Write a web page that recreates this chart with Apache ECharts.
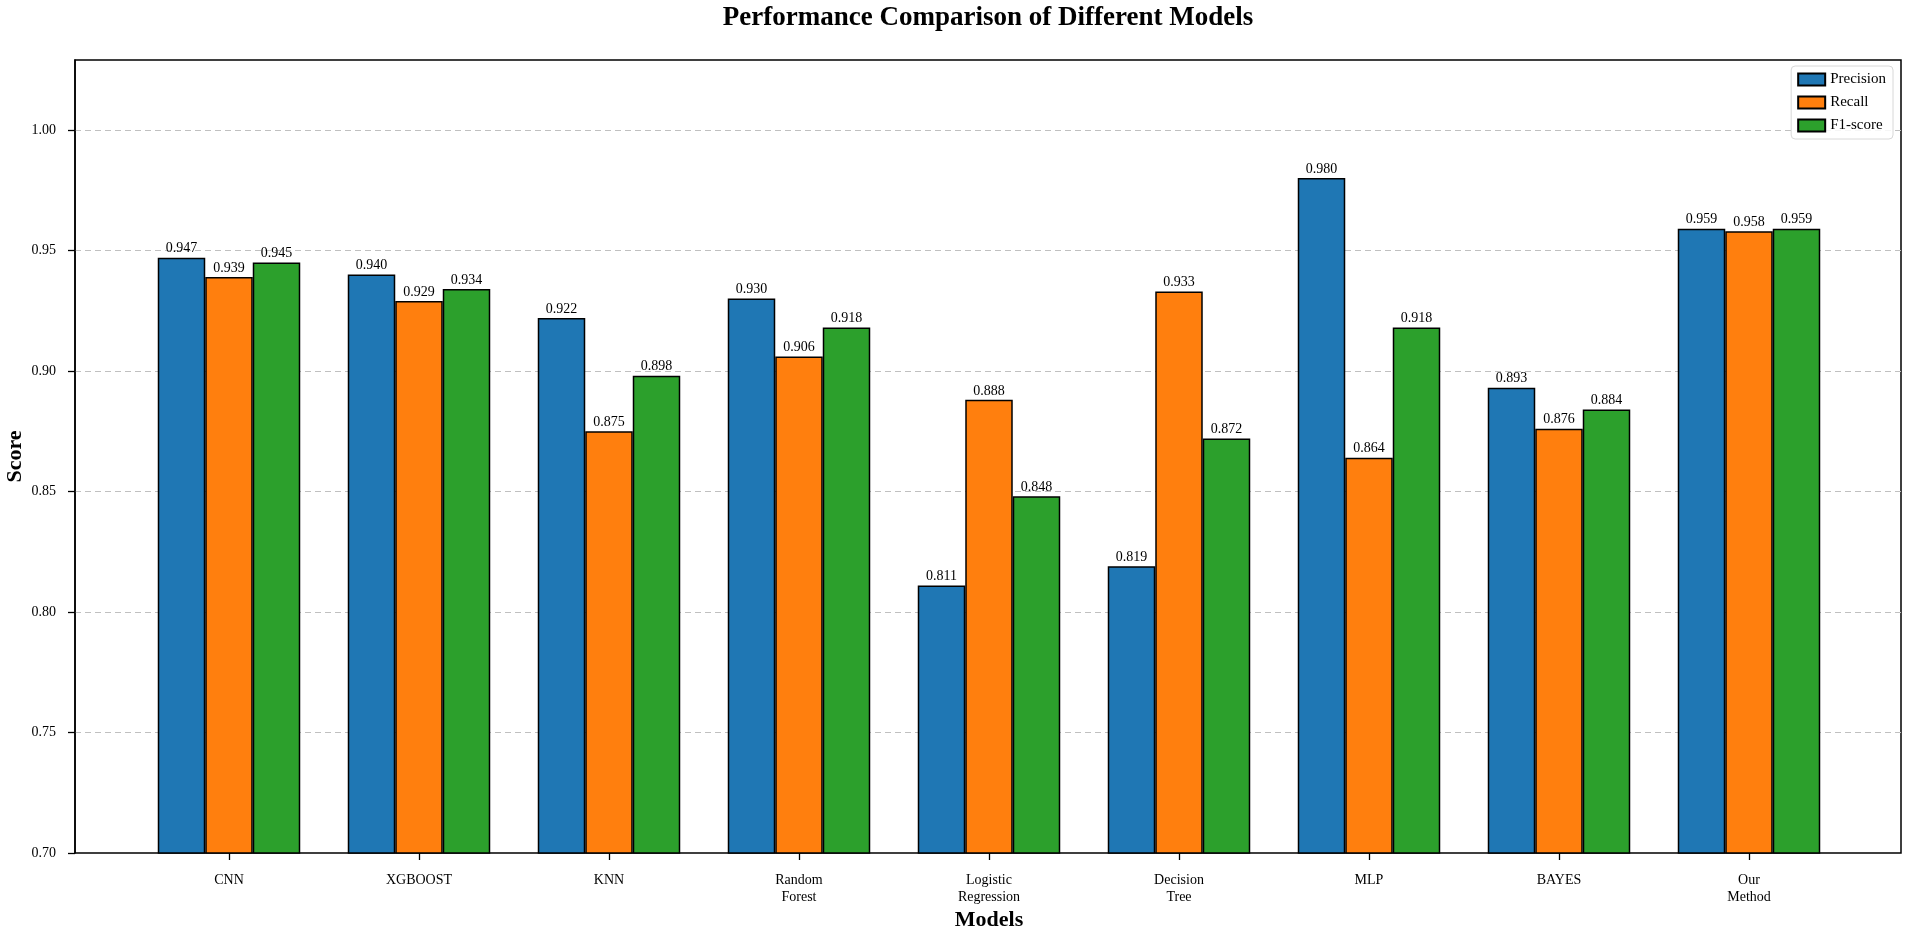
<!DOCTYPE html>
<html>
<head>
<meta charset="utf-8">
<script src="https://cdn.jsdelivr.net/npm/echarts@6/dist/echarts.min.js"></script>
<style>
html,body{margin:0;padding:0;background:#fff;}
#main{width:1905px;height:928px;}
</style>
</head>
<body>
<div id="main"></div>
<script>
const categories = ['CNN', 'XGBOOST', 'KNN', 'Random Forest', 'Logistic Regression', 'Decision Tree', 'MLP', 'BAYES', 'Our Method'];
const seriesNames = ['Precision', 'Recall', 'F1-score'];
const precision = [0.947, 0.940, 0.922, 0.930, 0.811, 0.819, 0.980, 0.893, 0.959];
const recall = [0.939, 0.929, 0.875, 0.906, 0.888, 0.933, 0.864, 0.876, 0.958];
const f1score = [0.945, 0.934, 0.898, 0.918, 0.848, 0.872, 0.918, 0.884, 0.959];
const yTickMin = 0.70, yTickMax = 1.00, yTickStep = 0.05;
const colors = ['#1f77b4', '#ff7f0e', '#2ca02c'];

const FONT = "'Liberation Serif', 'Times New Roman', serif";
const Y_MIN = 0.7, Y_MAX = 1.029;

// layout (pixels)
const W = 1905, H = 928;
const PLOT_LEFT = 75, PLOT_RIGHT = 4, PLOT_TOP = 60, PLOT_BOTTOM = 75;
const PLOT_H = H - PLOT_TOP - PLOT_BOTTOM;
// tick grid top: where the last tick value sits inside the frame
const TICK_TOP = PLOT_TOP + (Y_MAX - yTickMax) / (Y_MAX - Y_MIN) * PLOT_H;

const chart = echarts.init(document.getElementById('main'), null, {renderer: 'canvas'});

function makeSeries(name, data, color) {
  return {
    name: name,
    type: 'bar',
    xAxisIndex: 1,
    yAxisIndex: 1,
    data: data,
    barWidth: '25%',
    barGap: '0%',
    z: 3,
    itemStyle: {color: color, borderColor: '#000', borderWidth: 1.5},
    label: {
      show: true,
      position: 'top',
      distance: 2,
      formatter: p => p.value.toFixed(3),
      fontFamily: FONT,
      fontSize: 14,
      color: '#000'
    },
    emphasis: {disabled: true}
  };
}

const option = {
  animation: false,
  backgroundColor: '#fff',
  graphic: [{
    type: 'text',
    x: 988,
    y: 18,
    style: {
      text: 'Performance Comparison of Different Models',
      fontFamily: FONT,
      fontWeight: 'bold',
      fontSize: 27,
      fill: '#000',
      align: 'center',
      verticalAlign: 'middle'
    }
  }],
  legend: {
    data: seriesNames,
    orient: 'vertical',
    right: 12,
    top: 66,
    itemWidth: 27,
    itemHeight: 12,
    itemGap: 8,
    icon: 'rect',
    padding: [6, 7, 6, 6],
    borderColor: '#d8d8d8',
    borderWidth: 1,
    borderRadius: 4,
    backgroundColor: 'rgba(255,255,255,0.85)',
    textStyle: {fontFamily: FONT, fontSize: 15, color: '#000'},
    z: 10
  },
  grid: [
    {left: PLOT_LEFT, right: PLOT_RIGHT, top: PLOT_TOP, bottom: PLOT_BOTTOM, show: true, borderColor: '#000', borderWidth: 1.5, backgroundColor: 'transparent', outerBoundsMode: 'none', containLabel: false},
    {left: 134, right: 61, top: PLOT_TOP, bottom: PLOT_BOTTOM, outerBoundsMode: 'none', containLabel: false},
    {left: PLOT_LEFT, right: PLOT_RIGHT, top: TICK_TOP, bottom: PLOT_BOTTOM, outerBoundsMode: 'none', containLabel: false}
  ],
  xAxis: [
    {gridIndex: 0, type: 'value', min: 0, max: 1, show: false},
    {
      gridIndex: 1,
      type: 'category',
      data: categories,
      axisLine: {show: false},
      axisTick: {show: true, alignWithLabel: true, length: 7, lineStyle: {color: '#000', width: 1.3}},
      axisLabel: {
        margin: 19,
        fontFamily: FONT,
        fontSize: 14,
        color: '#000',
        lineHeight: 17,
        interval: 0,
        formatter: v => v.replace(' ', '\n')
      },
      splitLine: {show: false},
      name: 'Models',
      nameLocation: 'middle',
      nameGap: 56,
      nameMoveOverlap: false,
      nameTextStyle: {fontFamily: FONT, fontSize: 22, fontWeight: 'bold', color: '#000'}
    },
    {gridIndex: 2, type: 'value', min: 0, max: 1, show: false}
  ],
  yAxis: [
    {
      gridIndex: 0,
      type: 'value',
      min: Y_MIN,
      max: Y_MAX,
      axisLine: {show: true, lineStyle: {color: '#000', width: 1.5}},
      axisTick: {show: false},
      axisLabel: {show: false},
      splitLine: {show: false},
      name: 'Score',
      nameLocation: 'middle',
      nameGap: 49,
      nameMoveOverlap: false,
      nameTextStyle: {fontFamily: FONT, fontSize: 22, fontWeight: 'bold', color: '#000'}
    },
    {gridIndex: 1, type: 'value', min: Y_MIN, max: Y_MAX, show: false, splitLine: {show: false}},
    {
      gridIndex: 2,
      type: 'value',
      min: yTickMin,
      max: yTickMax,
      interval: yTickStep,
      axisLine: {show: false},
      axisTick: {show: true, length: 7, lineStyle: {color: '#000', width: 1.3}},
      axisLabel: {
        margin: 19,
        fontFamily: FONT,
        fontSize: 14,
        color: '#000',
        formatter: v => Number(v).toFixed(2)
      },
      splitLine: {show: true, showMinLine: false, lineStyle: {color: '#c0c0c0', width: 1.2, type: [6, 4]}}
    }
  ],
  series: [
    makeSeries(seriesNames[0], precision, colors[0]),
    makeSeries(seriesNames[1], recall, colors[1]),
    makeSeries(seriesNames[2], f1score, colors[2])
  ]
};

chart.setOption(option);
</script>
</body>
</html>
